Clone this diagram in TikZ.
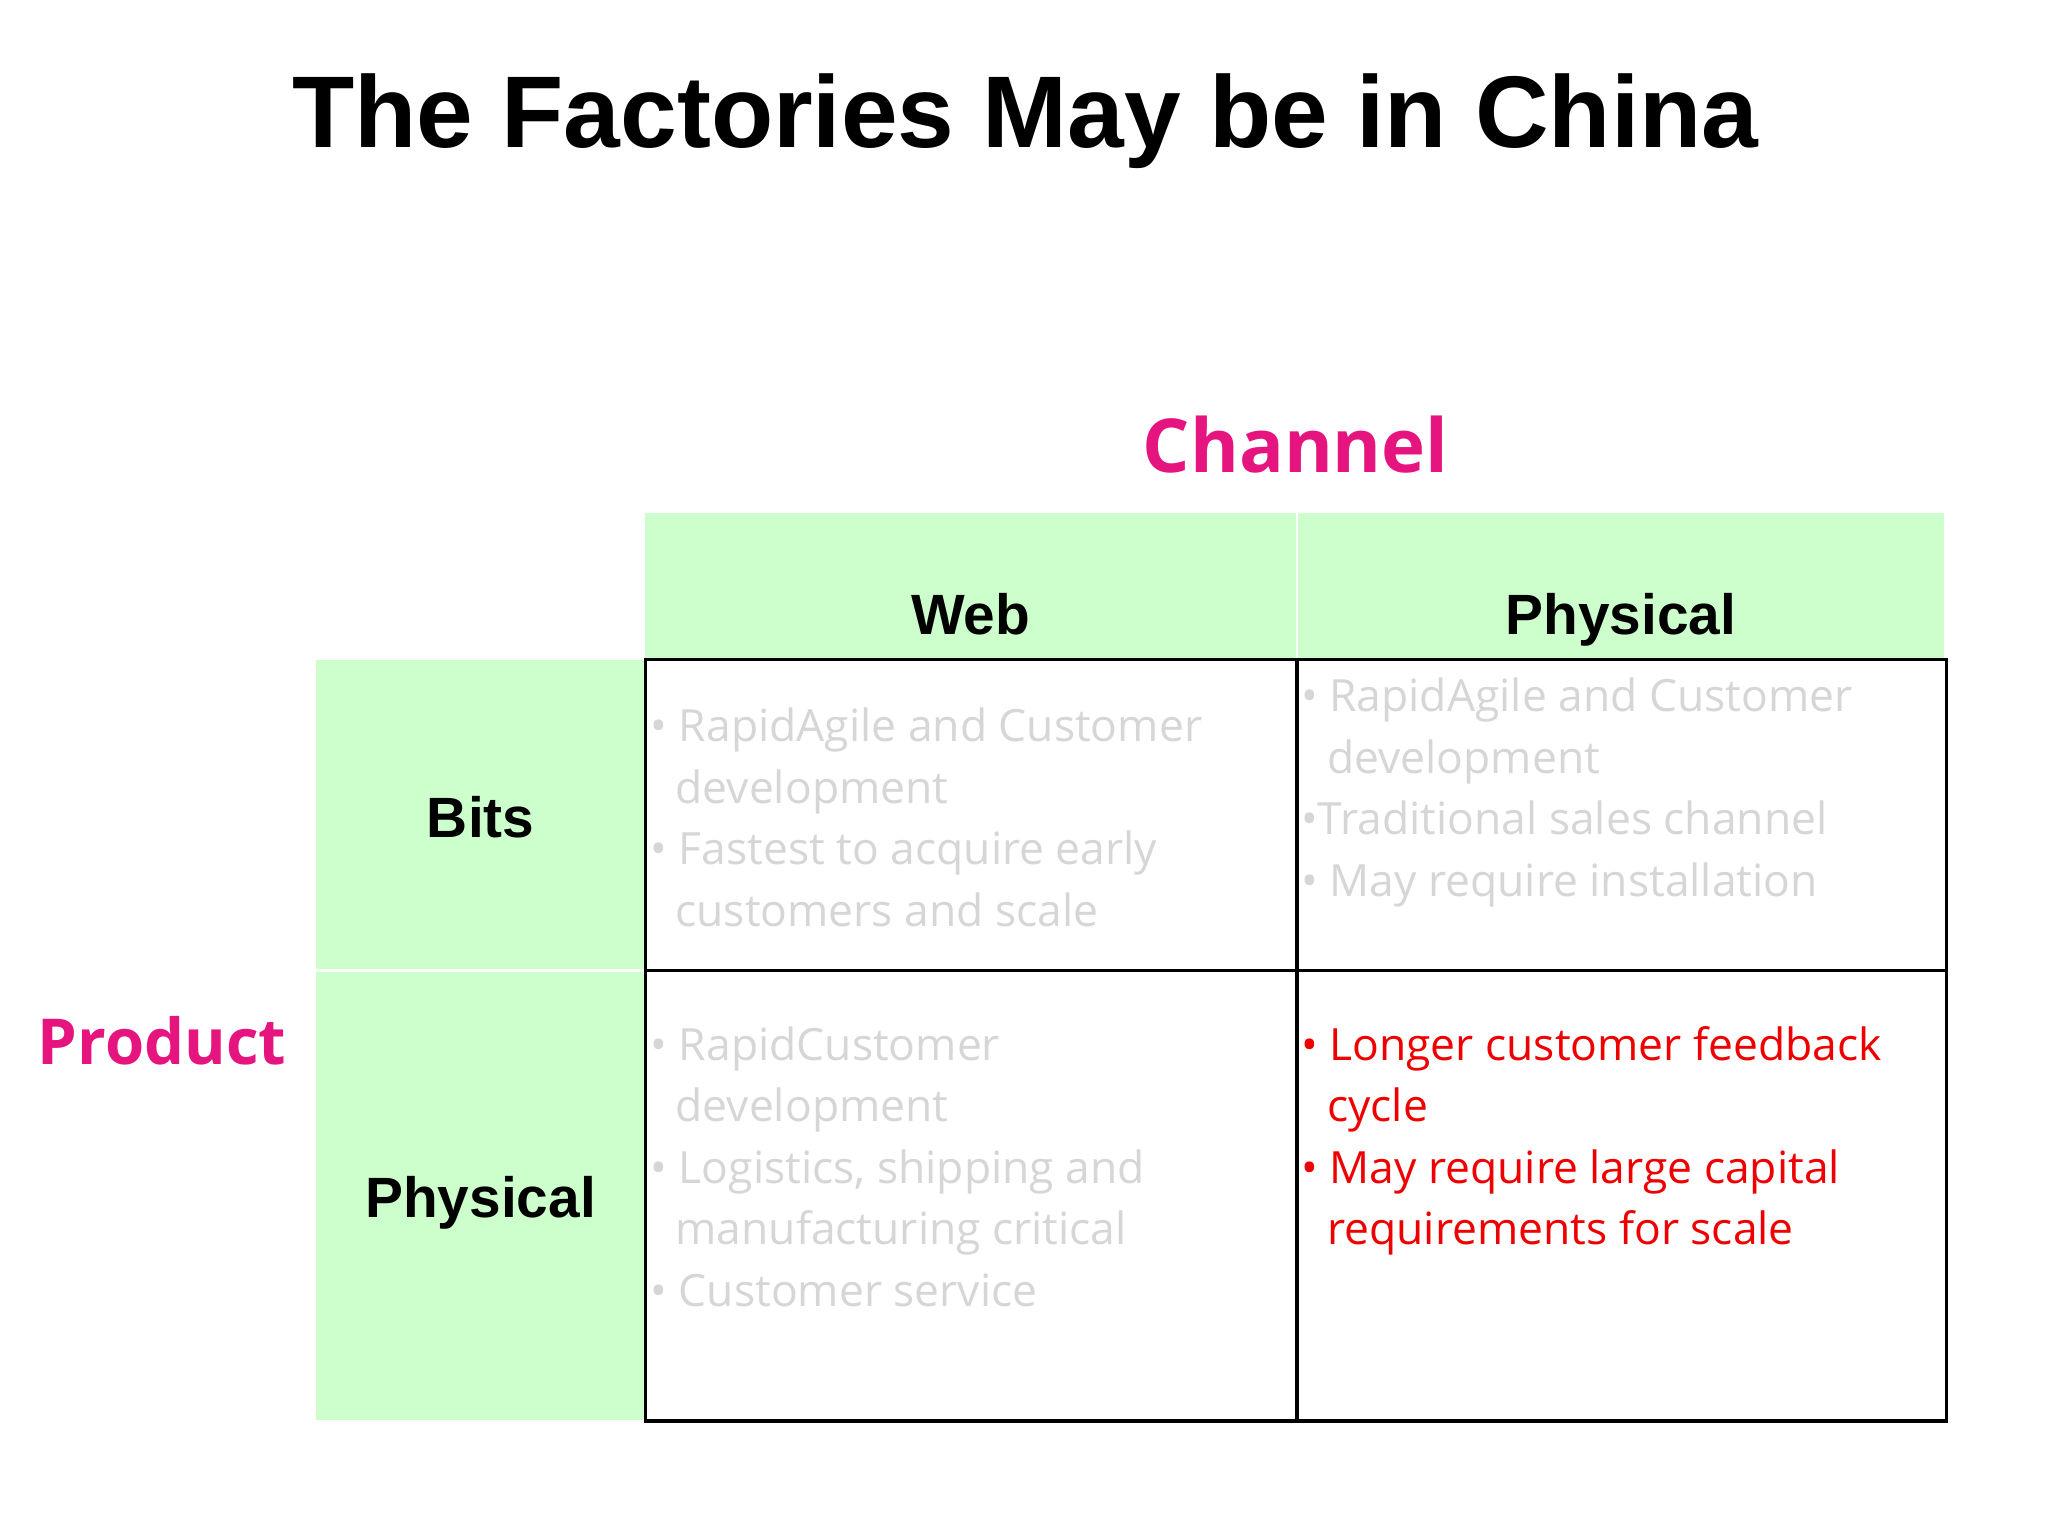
\documentclass[tikz,border=0pt]{standalone}
\usepackage{fontspec}
\setmainfont{Liberation Sans}
\newfontfamily\bodyf{Open Sans}
\begin{document}
\begin{tikzpicture}[x=1pt,y=-1pt,
  hdr/.style={font=\fontsize{43.5}{46}\selectfont\bfseries,anchor=base},
  ax/.style={text=magentaC,anchor=base},
  ln/.style={font=\bodyf\fontsize{34}{40}\selectfont,anchor=base west,inner sep=0pt},
  gr/.style={ln,text=grayC},
  rd/.style={ln,text=redC}]
\definecolor{greenC}{HTML}{CCFFCC}
\definecolor{magentaC}{HTML}{E6147F}
\definecolor{grayC}{HTML}{D6D6D6}
\definecolor{redC}{HTML}{EE0000}
\useasboundingbox[fill=white] (0,0) rectangle (1568,1176);
\node[anchor=base,font=\fontsize{78}{84}\selectfont\bfseries] (title) at (785,113) {The Factories May be in China};
\node[ax,font=\bodyf\fontsize{57}{60}\selectfont\bfseries] (chan) at (992,362) {Channel};
\node[ax,font=\bodyf\fontsize{48.5}{52}\selectfont\bfseries] (prod) at (124,815) {Product};
\fill[greenC] (494,393) rectangle (1488,505);
\fill[greenC] (242,505) rectangle (494,1087);
\draw[white,line width=2] (993,393) -- (993,505);
\draw[white,line width=2] (242,743) -- (494,743);
\draw[line width=2.5] (494,505) rectangle (1490,1088);
\draw[line width=2.5] (993,505) -- (993,1088);
\draw[line width=2.5] (494,743) -- (1490,743);
\node[hdr] (web) at (743,486) {Web};
\node[hdr] (phys) at (1241,486) {Physical};
\node[hdr] (bits) at (368,641) {Bits};
\node[hdr] (physr) at (368,932) {Physical};
% Web/Bits
\node[gr] (a1) at (498,568) {\textbullet\ RapidAgile and Customer};
\node[gr] (a2) at (517,615) {development};
\node[gr] (a3) at (498,662) {\textbullet\ Fastest to acquire early};
\node[gr] (a4) at (517,709) {customers and scale};
% Physical/Bits
\node[gr] (b1) at (996,545) {\textbullet\ RapidAgile and Customer};
\node[gr] (b2) at (1016,592) {development};
\node[gr] (b3) at (996,639) {\textbullet Traditional sales channel};
\node[gr] (b4) at (996,686) {\textbullet\ May require installation};
% Web/Physical
\node[gr] (c1) at (498,812) {\textbullet\ RapidCustomer};
\node[gr] (c2) at (517,859) {development};
\node[gr] (c3) at (498,906) {\textbullet\ Logistics, shipping and};
\node[gr] (c4) at (517,953) {manufacturing critical};
\node[gr] (c5) at (498,1000) {\textbullet\ Customer service};
% Physical/Physical
\node[rd] (d1) at (996,812) {\textbullet\ Longer customer feedback};
\node[rd] (d2) at (1016,859) {cycle};
\node[rd] (d3) at (996,906) {\textbullet\ May require large capital};
\node[rd] (d4) at (1016,953) {requirements for scale};
\end{tikzpicture}
\end{document}
